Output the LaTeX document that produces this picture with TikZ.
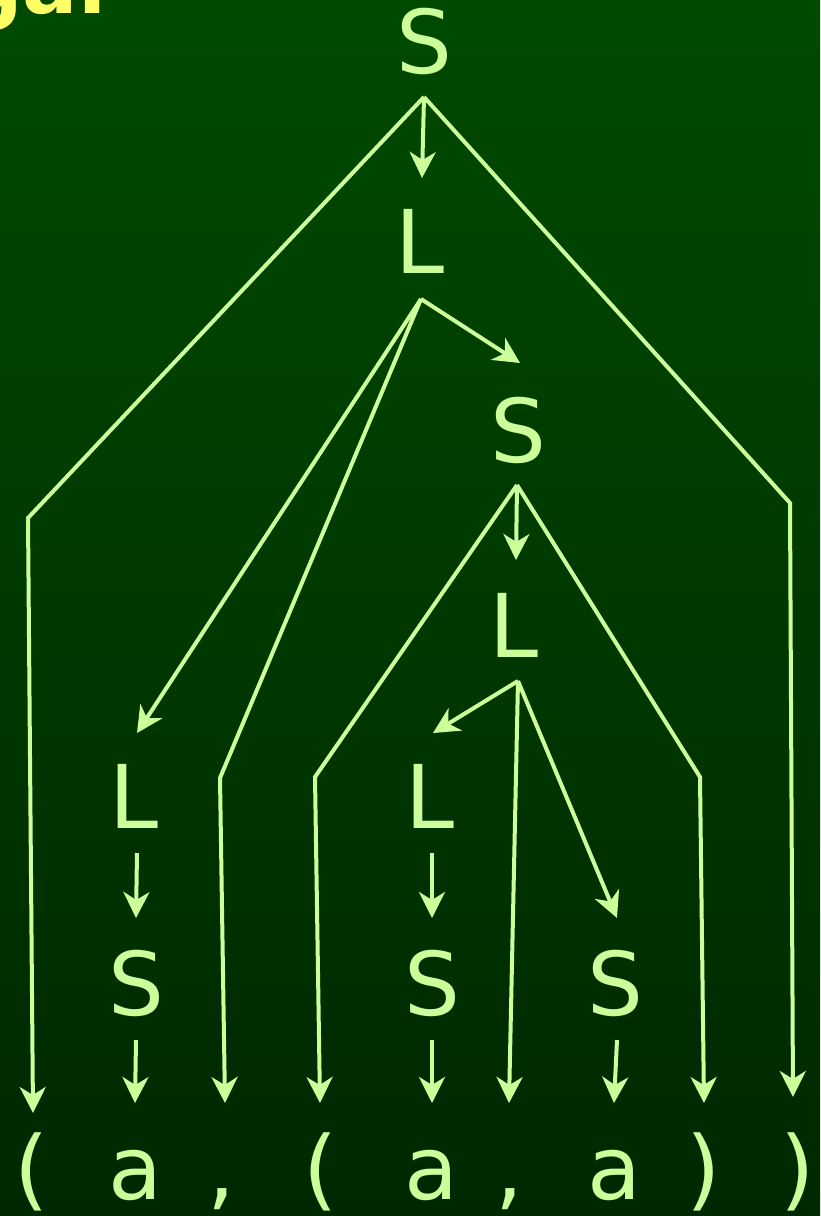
\documentclass[tikz,border=0pt]{standalone}
\usepackage{fontspec}
\setmainfont{DejaVu Sans}
\usetikzlibrary{arrows.meta}
\definecolor{lg}{RGB}{204,255,153}
\definecolor{ttl}{RGB}{255,255,102}
\definecolor{bgtop}{RGB}{0,74,0}
\definecolor{bgbot}{RGB}{0,40,0}
\begin{document}
\begin{tikzpicture}[x=1pt,y=-1pt,
  sym/.style={text=lg,font=\fontsize{88}{100}\selectfont,anchor=base,inner sep=0pt},
  edge/.style={draw=lg,line width=4pt,line join=miter},
  arr/.style={edge,-{Stealth[length=26pt,width=26pt,inset=8pt]}}]
\useasboundingbox (0,0) rectangle (820,1216);
\shade[top color=bgtop,bottom color=bgbot] (0,0) rectangle (820,1216);
% clipped title
\node[text=ttl,font=\bfseries\fontsize{82}{90}\selectfont,anchor=base west,inner sep=0pt] (title) at (-36,13) {gar};
% nonterminals
\node[sym] (S0) at (424,73) {S};
\node[sym] (L1) at (420,273) {L};
\node[sym] (S1) at (518,462) {S};
\node[sym] (L2) at (514,657) {L};
\node[sym] (L3) at (134,828) {L};
\node[sym] (L4) at (430,828) {L};
\node[sym] (S3) at (136,1015) {S};
\node[sym] (S4) at (432,1015) {S};
\node[sym] (S5) at (615,1015) {S};
% terminals
\node[sym] (t1) at (32,1199) {(};
\node[sym] (t2) at (135,1199) {a};
\node[sym] (t3) at (221,1199) {,};
\node[sym] (t4) at (321,1199) {(};
\node[sym] (t5) at (431,1199) {a};
\node[sym] (t6) at (509,1199) {,};
\node[sym] (t7) at (614,1199) {a};
\node[sym] (t8) at (704,1199) {)};
\node[sym] (t9) at (798,1199) {)};
% connector points
\coordinate (S0b) at (424,97);
\coordinate (L1t) at (422,178);
\coordinate (lc1) at (28,518);
\coordinate (at1) at (33,1113);
\coordinate (rc1) at (790,503);
\coordinate (at9) at (793,1097);
\coordinate (L1b) at (421,299);
\coordinate (S1t) at (520,363);
\coordinate (L3t) at (137,733);
\coordinate (c2) at (220,778);
\coordinate (at3) at (225,1103);
\coordinate (S1b) at (517,485);
\coordinate (L2t) at (516,560);
\coordinate (c3) at (315,777);
\coordinate (at4) at (320,1103);
\coordinate (c4) at (700,777);
\coordinate (at8) at (704,1103);
\coordinate (L2b) at (518,681);
\coordinate (L4t) at (433,733);
\coordinate (at6) at (509,1103);
\coordinate (S5t) at (617,918);
\coordinate (L3b) at (137,853);
\coordinate (S3t) at (136,918);
\coordinate (S3b) at (136,1040);
\coordinate (at2) at (135,1103);
\coordinate (L4b) at (432,853);
\coordinate (S4t) at (432,918);
\coordinate (S4b) at (432,1040);
\coordinate (at5) at (432,1103);
\coordinate (S5b) at (617,1040);
\coordinate (at7) at (614,1103);
% connectors
\draw[arr] (S0b) -- (L1t);
\draw[arr] (S0b) -- (lc1) -- (at1);
\draw[arr] (S0b) -- (rc1) -- (at9);
\draw[arr] (L1b) -- (S1t);
\draw[arr] (L1b) -- (L3t);
\draw[arr] (L1b) -- (c2) -- (at3);
\draw[arr] (S1b) -- (L2t);
\draw[arr] (S1b) -- (c3) -- (at4);
\draw[arr] (S1b) -- (c4) -- (at8);
\draw[arr] (L2b) -- (L4t);
\draw[arr] (L2b) -- (at6);
\draw[arr] (L2b) -- (S5t);
\draw[arr] (L3b) -- (S3t);
\draw[arr] (S3b) -- (at2);
\draw[arr] (L4b) -- (S4t);
\draw[arr] (S4b) -- (at5);
\draw[arr] (S5b) -- (at7);
\end{tikzpicture}
\end{document}
